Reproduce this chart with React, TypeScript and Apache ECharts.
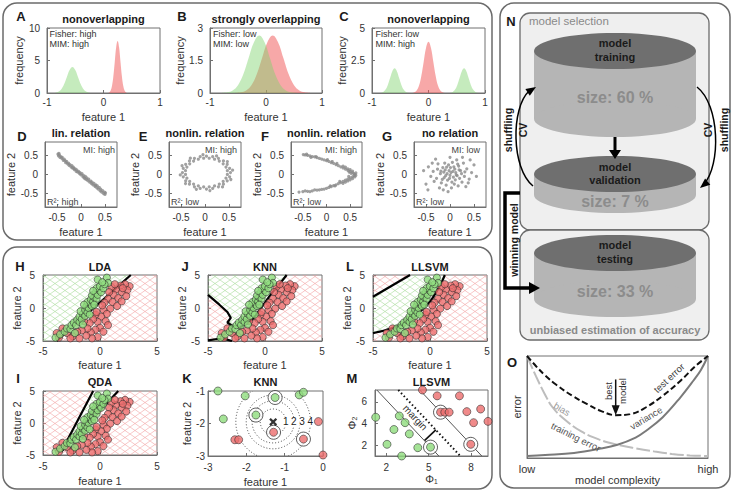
import { useEffect, useRef } from 'react';
import * as echarts from 'echarts';

const FONT = "'Liberation Sans', Arial, Helvetica, sans-serif";

// ===== A–C : class densities  [feature 1, frequency]
const aGreen = [[-0.9,0],[-0.85,0.04],[-0.8,0.18],[-0.75,0.54],[-0.7,1.3],[-0.65,2.43],[-0.6,3.53],[-0.55,4.0],[-0.5,3.53],[-0.45,2.43],[-0.4,1.3],[-0.35,0.54],[-0.3,0.18],[-0.25,0.04],[-0.2,0]];
const aRed = [[0.08,0],[0.1,0.09],[0.125,0.35],[0.15,1.08],[0.175,2.6],[0.2,4.85],[0.225,7.06],[0.25,8],[0.275,7.06],[0.3,4.85],[0.325,2.6],[0.35,1.08],[0.375,0.35],[0.4,0.09],[0.42,0]];
const bGreen = [[-0.785,0.01],[-0.69,0.03],[-0.595,0.12],[-0.5,0.36],[-0.405,0.86],[-0.31,1.61],[-0.215,2.34],[-0.12,2.65],[-0.025,2.34],[0.07,1.61],[0.165,0.86],[0.26,0.36],[0.355,0.12],[0.45,0.03],[0.545,0.01]];
const bRed = [[-0.545,0.01],[-0.45,0.03],[-0.355,0.12],[-0.26,0.36],[-0.165,0.86],[-0.07,1.61],[0.025,2.34],[0.12,2.65],[0.215,2.34],[0.31,1.61],[0.405,0.86],[0.5,0.36],[0.595,0.12],[0.69,0.03],[0.785,0.01]];
const cGreenL = [[-0.88,0],[-0.84,0.02],[-0.8,0.08],[-0.76,0.26],[-0.72,0.62],[-0.68,1.15],[-0.64,1.68],[-0.6,1.9],[-0.56,1.68],[-0.52,1.15],[-0.48,0.62],[-0.44,0.26],[-0.4,0.08],[-0.36,0.02],[-0.32,0]];
const cGreenR = [[0.35,0],[0.39,0.02],[0.43,0.08],[0.47,0.26],[0.51,0.62],[0.55,1.15],[0.59,1.68],[0.63,1.9],[0.67,1.68],[0.71,1.15],[0.75,0.62],[0.79,0.26],[0.83,0.08],[0.87,0.02],[0.91,0]];
const cRed = [[-0.3,0],[-0.255,0.04],[-0.213,0.17],[-0.17,0.53],[-0.128,1.28],[-0.085,2.4],[-0.043,3.49],[0,3.95],[0.043,3.49],[0.085,2.4],[0.128,1.28],[0.17,0.53],[0.213,0.17],[0.255,0.04],[0.3,0]];

// ===== D–G : feature 1 vs feature 2
const dPts = [[-0.48,0.53],[-0.47,0.49],[-0.45,0.51],[-0.44,0.45],[-0.42,0.47],[-0.40,0.42],[-0.39,0.45],[-0.37,0.37],[-0.35,0.40],[-0.33,0.36],[-0.32,0.31],[-0.30,0.34],[-0.28,0.28],[-0.26,0.30],[-0.25,0.24],[-0.23,0.26],[-0.21,0.20],[-0.19,0.23],[-0.18,0.17],[-0.16,0.19],[-0.14,0.13],[-0.12,0.15],[-0.10,0.08],[-0.09,0.12],[-0.07,0.06],[-0.05,0.08],[-0.03,0.02],[-0.02,0.05],[0.00,-0.01],[0.02,0.02],[0.04,-0.06],[0.05,-0.02],[0.07,-0.08],[0.09,-0.05],[0.11,-0.13],[0.12,-0.09],[0.14,-0.16],[0.16,-0.12],[0.18,-0.20],[0.20,-0.17],[0.22,-0.24],[0.23,-0.20],[0.25,-0.27],[0.27,-0.23],[0.29,-0.31],[0.31,-0.27],[0.33,-0.35],[0.34,-0.30],[0.36,-0.38],[0.38,-0.34],[0.40,-0.43],[0.41,-0.38],[0.43,-0.46],[0.45,-0.42],[0.47,-0.50],[0.49,-0.46],[0.50,-0.52],[0.51,-0.48],[-0.46,0.55],[0.08,-0.11],[-0.15,0.16],[0.30,-0.29]];
const ePts = [[0.53,0.05],[0.513,0.161],[0.463,0.265],[0.384,0.354],[0.28,0.422],[0.16,0.465],[0.03,0.48],[-0.10,0.465],[-0.22,0.422],[-0.324,0.354],[-0.403,0.265],[-0.453,0.161],[-0.47,0.05],[-0.453,-0.061],[-0.403,-0.165],[-0.324,-0.254],[-0.22,-0.322],[-0.10,-0.365],[0.03,-0.38],[0.16,-0.365],[0.28,-0.322],[0.384,-0.254],[0.463,-0.165],[0.513,-0.061],
  [0.466,0.1],[0.437,0.195],[0.379,0.28],[0.298,0.35],[0.199,0.399],[0.088,0.425],[-0.028,0.425],[-0.139,0.399],[-0.238,0.35],[-0.319,0.28],[-0.377,0.195],[-0.406,0.1],[-0.406,0.0],[-0.377,-0.095],[-0.319,-0.18],[-0.238,-0.25],[-0.139,-0.299],[-0.028,-0.325],[0.088,-0.325],[0.199,-0.299],[0.298,-0.25],[0.379,-0.18],[0.437,-0.095],[0.466,0.0],
  [0.575,0.112],[0.466,0.338],[0.241,0.487],[-0.042,0.519],[-0.305,0.426],[-0.478,0.231],[-0.515,-0.012],[-0.406,-0.238],[-0.18,-0.387],[0.102,-0.419],[0.365,-0.326],[0.538,-0.131]];
const fPts = [[-0.49,0.52],[-0.45,0.51],[-0.40,0.50],[-0.35,0.49],[-0.30,0.47],[-0.25,0.46],[-0.20,0.44],[-0.15,0.42],[-0.10,0.40],[-0.05,0.38],[0.00,0.36],[0.05,0.34],[0.10,0.31],[0.15,0.29],[0.20,0.26],[0.25,0.23],[0.30,0.20],[0.35,0.17],[0.40,0.14],[0.45,0.11],[0.50,0.08],[0.55,0.05],[0.58,0.02],[0.60,0.00],
  [0.45,0.15],[0.40,0.19],[0.50,0.13],[0.55,0.09],[0.35,0.22],[0.52,0.03],[0.62,0.04],[0.48,0.06],[-0.42,0.53],[-0.22,0.47],[0.02,0.39],[0.22,0.29],[-0.33,0.45],[0.12,0.34],
  [0.58,-0.03],[0.55,-0.06],[0.50,-0.09],[0.45,-0.12],[0.40,-0.15],[0.35,-0.18],[0.30,-0.21],[0.25,-0.24],[0.20,-0.27],[0.15,-0.29],[0.10,-0.32],[0.05,-0.34],[0.00,-0.36],[-0.05,-0.38],[-0.10,-0.39],[-0.15,-0.40],[-0.20,-0.41],[-0.30,-0.43],[-0.40,-0.44],[-0.50,-0.45],[-0.58,-0.46],
  [0.50,-0.14],[0.45,-0.17],[0.40,-0.20],[0.55,-0.11],[0.60,-0.06],[0.35,-0.23],[0.62,-0.02],[0.47,-0.05],[-0.25,-0.40],[-0.35,-0.45],[0.08,-0.30],[0.28,-0.18],[-0.45,-0.43],[0.18,-0.30]];
const gPts = [[0.02,0.05],[-0.10,0.12],[0.15,-0.03],[-0.05,-0.15],[0.08,0.20],[-0.20,0.02],[0.22,0.10],[0.00,-0.02],[-0.12,-0.08],[0.11,-0.14],[-0.03,0.25],[0.30,-0.05],[-0.28,-0.10],[0.05,0.32],[-0.15,0.18],[0.18,0.22],[-0.08,-0.28],[0.25,-0.20],[-0.35,0.08],[0.12,0.05],[-0.02,0.10],[0.07,-0.07],[-0.18,-0.22],[0.35,0.15],[-0.25,0.28],[0.03,-0.35],[0.40,-0.12],[-0.40,-0.05],[0.14,0.38],[-0.06,0.02],[0.10,0.14],[-0.13,0.06],[0.20,-0.10],[-0.09,-0.03],[0.04,-0.20],[-0.22,-0.35],[0.28,0.30],[0.45,0.05],[-0.45,0.20],[0.00,0.45],[0.17,-0.30],[-0.30,0.40],[0.33,-0.32],[-0.04,-0.45],[0.50,0.25],[-0.50,-0.25],[0.06,0.08],[-0.16,-0.13],[0.24,0.02],[-0.26,0.14],[0.09,-0.25],[-0.11,0.30],[0.19,0.12],[-0.01,-0.10],[0.13,-0.01],[-0.07,0.19],[0.31,0.07],[-0.33,-0.18],[0.01,0.18],[-0.19,0.09],[0.16,0.27],[-0.14,-0.40],[0.38,-0.22],[-0.37,0.30],[0.55,-0.05],[-0.55,0.10],[0.26,0.45],[0.42,0.38],[-0.46,-0.40]];

// ===== H, I, J, L : shared two-class dataset
const clsGreen = [[-3.9,-4.5],[-3.5,-4.0],[-3.1,-3.6],[-2.9,-3.1],[-2.6,-3.2],[-2.5,-2.6],[-2.3,-2.2],[-2.1,-2.6],[-2.0,-1.8],[-1.8,-2.1],[-1.8,-1.3],[-1.6,-1.7],[-1.5,-0.9],[-1.7,-0.5],[-1.3,-1.2],[-1.3,-0.3],[-1.1,-0.7],[-1.2,0.2],[-1.0,0.0],[-0.9,0.6],[-1.1,0.9],[-0.7,0.3],[-0.8,1.3],[-0.6,1.0],[-0.5,1.6],[-0.7,1.9],[-0.3,1.4],[-0.4,2.3],[-0.2,2.0],[-0.1,2.7],[-0.3,3.0],[0.1,2.4],[0.0,3.3],[0.3,3.0],[-0.2,4.3],[0.6,4.6],[0.7,3.8],[0.4,3.6],[-1.5,-2.5],[-2.2,-3.8],[-0.9,-1.0],[-0.5,0.5],[-1.4,0.5],[-0.6,2.6],[0.2,3.9]];
const clsRed = [[2.6,3.3],[2.2,3.6],[1.8,3.4],[2.4,2.7],[1.9,2.4],[1.4,2.8],[1.0,3.2],[1.2,2.0],[0.8,2.4],[1.6,1.5],[0.7,1.4],[1.1,0.9],[0.4,0.8],[1.5,0.3],[0.9,-0.1],[0.3,-0.3],[0.6,-0.9],[0.1,-1.3],[-0.4,-1.0],[0.5,-2.0],[-0.2,-2.1],[-0.6,-1.7],[-0.9,-2.3],[0.0,-3.0],[-0.4,-3.3],[0.3,-3.6],[-0.8,-3.7],[-0.2,-4.4],[-0.7,-4.6],[-1.2,-4.2],[-1.1,-3.1],[-1.6,-3.4],[-2.0,-3.6],[-2.4,-4.3],[-2.9,-3.8],[-3.3,-3.1],[-3.8,-3.8],[-3.6,-4.5],[-1.8,-4.6],[1.9,1.0],[2.3,1.8],[0.2,0.4],[-0.3,-0.6],[0.7,-2.6],[2.0,3.0],[1.3,3.6],[-1.4,-2.0],[-2.6,-4.6]];

// decision regions / boundaries
const hGreenRegion = [[-5,-5],[-3.8,-5],[2.7,5],[-5,5]];
const hRedRegion = [[-3.8,-5],[5,-5],[5,5],[2.7,5]];
const hLine = [[-3.8,-5],[2.7,5]];
const iGreenRegion = [[-3.4,-4.5],[-0.6,5],[1.6,5]];
const iRedRegion = [[-5,-5],[5,-5],[5,5],[1.6,5],[-3.4,-4.5],[-0.6,5],[-5,5]];
const iLine = [[-0.6,5],[-3.4,-4.5],[1.6,5]];
const jLine = [[-5,2.0],[-4,0.5],[-3.3,-0.6],[-3.0,-1.5],[-3.3,-2.2],[-2.8,-2.8],[-2.2,-2.9],[-1.6,-2.4],[-1.1,-1.7],[-0.6,-0.6],[-0.1,0.6],[0.4,1.8],[0.9,2.9],[1.4,3.9],[1.9,5]];
const jGreenRegion = [[-5,5],...jLine];
const jRedRegion = [[-5,-5],...jLine,[5,5],[5,-5]];
const jLine2 = [[-5,-4.9],[-4.2,-4.7],[-3.4,-4.75],[-2.9,-5]];
const jGreenRegion2 = [[-5,-5],...jLine2];
const lLine = [[-5,-3.8],[-4,-3.4],[-3,-2.85],[-2,-2.0],[-1.2,-1.1],[-0.6,-0.1],[0,0.96],[0.4,2.0],[0.75,3.0],[1.05,4.0],[1.3,5]];
const lLine2 = [[-5,1.7],[-1.75,5]];
const lGreenRegion = [...lLine,[-1.75,5],[-5,1.7]];
const lRedRegion = [[-5,-5],[5,-5],[5,5],...lLine.slice().reverse()];
const lRedRegion2 = [[-5,1.7],[-1.75,5],[-5,5]];

// ===== K : nearest neighbours
const kGreen = [[-2.74,-1.0],[-2.6,-1.86],[-2.03,-1.15],[-1.25,-1.2],[-1.75,-1.74],[-0.62,-1.12],[-0.51,-1.04]];
const kRed = [[-2.3,-2.5],[-2.2,-2.5],[-1.29,-2.27],[-0.51,-2.48],[-0.12,-1.94],[0.0,-2.97]];
const kQuery = [[-1.3,-1.95]];
const kNeighbors = [[-1.29,-2.27],[-1.75,-1.74],[-1.25,-1.2],[-0.51,-2.48]];
const kRankLabels = ['1','2','3','4'];

// ===== M : linear SVM in feature space
const mGreen = [[1.25,4.58],[1.15,3.45],[2.92,4.7],[3.33,4.08],[2.54,3.45],[3.63,3.04],[2.05,2.08],[4.23,1.77],[3.09,1.0],[5.13,1.82]];
const mRed = [[4.56,7.1],[5.6,6.56],[5.84,5.05],[6.14,5.05],[6.45,5.05],[7.18,6.56],[7.7,5.1],[8.68,5.34],[8.18,4.08],[9.2,4.2],[7.98,2.08]];
const mSupport = [[5.13,1.82],[5.84,5.05],[7.98,2.08]];
const mLower = [[1.33,7.1],[5.72,1]];
const mMid = [[2.85,7.1],[7.24,1]];
const mUpper = [[4.37,7.1],[8.76,1]];
const mMarginAnchor = [5.51,3.41];
const mMarginLabelAt = [4.05,4.55];

// ===== O : bias / variance
const oTest = [[0,1.0],[0.05,0.9],[0.1,0.81],[0.16,0.72],[0.25,0.61],[0.33,0.53],[0.41,0.46],[0.49,0.42],[0.57,0.43],[0.66,0.5],[0.75,0.61],[0.85,0.76],[0.93,0.9],[1.0,1.0]];
const oBias = [[0,1.0],[0.05,0.8],[0.1,0.62],[0.14,0.5],[0.2,0.39],[0.3,0.26],[0.4,0.18],[0.5,0.13],[0.6,0.095],[0.7,0.065],[0.8,0.04],[0.9,0.025],[1.0,0.02]];
const oVar = [[0,0.02],[0.1,0.03],[0.26,0.05],[0.4,0.09],[0.5,0.13],[0.6,0.2],[0.66,0.27],[0.75,0.4],[0.85,0.6],[0.92,0.76],[0.96,0.86],[1.0,1.0]];
const oBestTop = [0.49,0.77];
const oBestTip = [0.49,0.42];

// grid boxes [left, top, width, height]
const GRIDS = [
  [47,28,113,65],[210,28,112,65],[372,28,113,65],
  [45,142,72,65],[169,142,72,65],[291,142,71,65],[414,142,72,65],
  [43,275,114,66],[208,275,114,66],[373,275,114,66],
  [43,391,114,64],[208,391,115,65],[375,390,113,66],
  [527,356,181,102],
];

const GREEN = '#8fdc7d';
const RED = '#ec6d6d';

function hatch(color: string) {
  const w = 10, h = 7;
  const c = document.createElement('canvas');
  c.width = w; c.height = h;
  const ctx = c.getContext('2d') as CanvasRenderingContext2D;
  ctx.strokeStyle = color; ctx.lineWidth = 0.55;
  for (const ox of [-w, 0, w]) {
    ctx.beginPath(); ctx.moveTo(ox, 0); ctx.lineTo(ox + w, h); ctx.stroke();
    ctx.beginPath(); ctx.moveTo(ox, h); ctx.lineTo(ox + w, 0); ctx.stroke();
  }
  return { image: c, repeat: 'repeat', imageWidth: w, imageHeight: h };
}

function axis(gi: number, o: any, isX: boolean) {
  const lab: any = { show: o.labels !== false, fontSize: o.fontSize || 10, color: '#333', fontFamily: FONT, margin: o.margin, hideOverlap: false };
  const tick: any = { show: o.ticks !== false, inside: true, length: 3, lineStyle: { color: '#707070' } };
  if (o.custom) { lab.customValues = o.custom; tick.customValues = o.custom; }
  if (o.formatter) lab.formatter = o.formatter;
  const a: any = {
    type: 'value', gridIndex: gi, min: o.min, max: o.max,
    splitLine: { show: false },
    axisLine: { show: true, onZero: false, lineStyle: { color: '#707070', width: 1 } },
    axisTick: tick, axisLabel: lab,
    showMinLabel: true, showMaxLabel: true,
    name: o.name || '', nameLocation: 'middle', nameGap: o.nameGap,
    nameTextStyle: { fontSize: 11, color: '#333', fontFamily: FONT },
  };
  if (o.interval) a.interval = o.interval;
  return a;
}

function T(x: number, y: number, text: string, o: any = {}) {
  const align = o.align || 'center';
  return {
    type: 'text', x, y, rotation: o.rot || 0, silent: true, z: 100,
    style: {
      text, fill: o.color || '#1a1a1a',
      font: `${o.bold ? 'bold ' : ''}${o.size || 11}px ${FONT}`,
      align, verticalAlign: 'middle', textAlign: align, textVerticalAlign: 'middle',
    },
  };
}

function buildOption(hG: any, hR: any) {
  const F1 = 'feature 1', F2 = 'feature 2';
  const xs = [
    { min: -1, max: 1, interval: 1, name: F1, nameGap: 18, margin: 4 },
    { min: -1, max: 1, interval: 1, name: F1, nameGap: 18, margin: 4 },
    { min: -1, max: 1, interval: 1, name: F1, nameGap: 18, margin: 4 },
    ...[0, 1, 2, 3].map(() => ({ min: -0.75, max: 0.75, custom: [-0.5, 0, 0.5], name: F1, nameGap: 19, margin: 5 })),
    ...[0, 1, 2].map(() => ({ min: -5, max: 5, interval: 5, name: F1, nameGap: 18.5, margin: 5 })),
    { min: -5, max: 5, interval: 5, name: F1, nameGap: 20, margin: 6 },
    { min: -3, max: 0, interval: 1, name: F1, nameGap: 20, margin: 6 },
    { min: 1.2, max: 9.2, custom: [2, 5, 8], name: 'Φ₁', nameGap: 17, margin: 6 },
    { min: 0, max: 1, custom: [0, 1], formatter: (v: number) => (v === 0 ? 'low' : 'high'), name: 'model complexity', nameGap: 16, margin: 5, ticks: false, fontSize: 11 },
  ];
  const ys = [
    { min: 0, max: 10, interval: 5, name: 'frequency', nameGap: 21, margin: 7 },
    { min: 0, max: 3, interval: 1.5, name: 'frequency', nameGap: 21, margin: 7 },
    { min: 0, max: 5, interval: 2.5, name: 'frequency', nameGap: 21, margin: 7 },
    ...[0, 1, 2, 3].map(() => ({ min: -0.85, max: 0.85, custom: [-0.5, 0, 0.5], name: F2, nameGap: 27.5, margin: 7 })),
    ...[0, 1, 2, 3].map(() => ({ min: -5, max: 5, interval: 5, name: F2, nameGap: 20, margin: 8 })),
    { min: -3, max: -1, interval: 1, name: F2, nameGap: 12, margin: 3 },
    { min: 1, max: 7.1, custom: [2, 4, 6], name: 'Φ₂', nameGap: 18, margin: 8 },
    { min: 0, max: 1, labels: false, ticks: false, name: 'error', nameGap: 5 },
  ];

  const S: any[] = [];
  const on = (gi: number) => ({ xAxisIndex: gi, yAxisIndex: gi });
  const area = (gi: number, data: any, color: string) => S.push({ type: 'line', ...on(gi), data, smooth: 0.4, symbol: 'none', silent: true, lineStyle: { width: 0 }, areaStyle: { color, opacity: 1 }, z: 2 });
  const dots = (gi: number, data: any) => S.push({ type: 'scatter', ...on(gi), data, symbolSize: 3.2, silent: true, itemStyle: { color: '#8a8a8a' }, z: 3 });
  const pts = (gi: number, data: any, color: string, size = 7.2) => S.push({ type: 'scatter', ...on(gi), data, symbolSize: size, silent: true, itemStyle: { color, borderColor: '#2a2a2a', borderWidth: 0.7 }, z: 5 });
  const rings = (gi: number, data: any) => S.push({ type: 'scatter', ...on(gi), data, symbolSize: 14, silent: true, itemStyle: { color: '#fff', borderColor: '#333', borderWidth: 1 }, z: 4 });
  const line = (gi: number, data: any, ls: any, smooth: any = false) => S.push({ type: 'line', ...on(gi), data, smooth, symbol: 'none', silent: true, lineStyle: ls, z: 4 });
  const region = (gi: number, poly: number[][], fill: any) => S.push({
    type: 'custom', ...on(gi), clip: true, silent: true, z: 1, data: [poly[0]],
    renderItem: (_p: any, api: any) => ({ type: 'polygon', shape: { points: poly.map((v) => api.coord(v)) }, style: { fill, stroke: 'none' } }),
  });

  const aG = 'rgba(126,210,108,0.45)', aR = 'rgba(239,81,81,0.5)';
  area(0, aGreen, aG); area(0, aRed, aR);
  area(1, bRed, aR); area(1, bGreen, aG);
  area(2, cGreenL, aG); area(2, cGreenR, aG); area(2, cRed, aR);
  dots(3, dPts); dots(4, ePts); dots(5, fPts); dots(6, gPts);

  const BL = { color: '#000', width: 2.2 };
  region(7, hGreenRegion, hG); region(7, hRedRegion, hR); line(7, hLine, BL);
  region(8, jGreenRegion, hG); region(8, jRedRegion, hR); region(8, jGreenRegion2, hG);
  line(8, jLine, BL); line(8, jLine2, BL);
  region(9, lGreenRegion, hG); region(9, lRedRegion, hR); region(9, lRedRegion2, hR);
  line(9, lLine, BL, 0.3); line(9, lLine2, BL);
  region(10, iGreenRegion, hG); region(10, iRedRegion, hR); line(10, iLine, BL);
  for (const gi of [7, 8, 9, 10]) { pts(gi, clsRed, RED); pts(gi, clsGreen, GREEN); }

  // K
  S.push({
    type: 'custom', ...on(11), clip: true, silent: true, z: 3, data: kQuery,
    renderItem: (_p: any, api: any) => {
      const c = api.coord(kQuery[0]);
      const children: any[] = [];
      kNeighbors.forEach((p, i) => {
        const q = api.coord(p);
        const r = Math.hypot(q[0] - c[0], q[1] - c[1]) + 2.5;
        children.push({ type: 'circle', shape: { cx: c[0], cy: c[1], r }, style: { fill: 'none', stroke: '#444', lineWidth: 1, lineDash: [1, 2] } });
        children.push({ type: 'text', x: c[0] + 12.5 + 8.2 * i, y: c[1], style: { text: kRankLabels[i], fill: '#222', font: `10px ${FONT}`, align: 'center', verticalAlign: 'middle', backgroundColor: '#fff' } });
      });
      return { type: 'group', children };
    },
  });
  rings(11, kNeighbors);
  pts(11, kGreen, GREEN, 8); pts(11, kRed, RED, 8);
  S.push({ type: 'scatter', ...on(11), data: kQuery, symbol: 'path://M2,0L5,3L8,0L10,2L7,5L10,8L8,10L5,7L2,10L0,8L3,5L0,2Z', symbolSize: 8, silent: true, itemStyle: { color: '#000' }, z: 6 });

  // M
  line(12, mLower, { color: '#555', width: 1 });
  line(12, mUpper, { color: '#555', width: 1 });
  line(12, mMid, { color: '#111', width: 2, type: [1.5, 2.5] });
  S.push({
    type: 'custom', ...on(12), clip: true, silent: true, z: 4, data: [mMarginAnchor],
    renderItem: (_p: any, api: any) => {
      const a = api.coord(mMarginAnchor);
      const p1 = api.coord(mLower[0]), p2 = api.coord(mLower[1]);
      const dx = p2[0] - p1[0], dy = p2[1] - p1[1];
      const t = ((a[0] - p1[0]) * dx + (a[1] - p1[1]) * dy) / (dx * dx + dy * dy);
      const f = [p1[0] + t * dx, p1[1] + t * dy];
      const m = api.coord(mMarginLabelAt);
      return { type: 'group', children: [
        { type: 'line', shape: { x1: a[0], y1: a[1], x2: f[0], y2: f[1] }, style: { stroke: '#111', lineWidth: 1.6 } },
        { type: 'text', x: m[0], y: m[1], rotation: Math.atan2(-dy, dx), style: { text: 'margin', fill: '#333', font: `10px ${FONT}`, align: 'center', verticalAlign: 'middle' } },
      ] };
    },
  });
  rings(12, mSupport);
  pts(12, mGreen, GREEN, 8); pts(12, mRed, RED, 8);

  // O
  line(13, oBias, { color: '#bdbdbd', width: 2, type: [14, 3] }, 0.4);
  line(13, oVar, { color: '#7a7a7a', width: 2 }, 0.4);
  line(13, oTest, { color: '#111', width: 2, type: [6, 3] }, 0.4);
  S.push({
    type: 'custom', ...on(13), clip: false, silent: true, z: 6, data: [oBestTop],
    renderItem: (_p: any, api: any) => {
      const a = api.coord(oBestTop), b = api.coord(oBestTip);
      return { type: 'group', children: [
        { type: 'line', shape: { x1: a[0], y1: a[1], x2: b[0], y2: b[1] - 8 }, style: { stroke: '#111', lineWidth: 1.5 } },
        { type: 'polygon', shape: { points: [[b[0] - 4, b[1] - 10], [b[0] + 4, b[1] - 10], [b[0], b[1]]] }, style: { fill: '#111' } },
      ] };
    },
  });

  // ---------- graphics
  const box = (x: number, y: number, w: number, h: number, r: number, fill = 'none', stroke = '#6b6b6b', lw = 1.5) =>
    ({ type: 'rect', silent: true, z: 0, shape: { x, y, width: w, height: h, r }, style: { fill, stroke, lineWidth: lw } });
  const cyl = (cy1: number, cy2: number) => [
    { type: 'rect', silent: true, z: 1, shape: { x: 534, y: cy1, width: 162, height: cy2 - cy1 }, style: { fill: '#b5b5b5' } },
    { type: 'ellipse', silent: true, z: 1, shape: { cx: 615, cy: cy2, rx: 81, ry: 18 }, style: { fill: '#b5b5b5' } },
    { type: 'ellipse', silent: true, z: 2, shape: { cx: 615, cy: cy1, rx: 81, ry: 18 }, style: { fill: '#6f6f6f' } },
  ];
  const B = { bold: true, size: 13 };
  const TT = { bold: true, size: 11 };
  const IN = { size: 9, color: '#333', align: 'left' };
  const MI = { size: 9, color: '#444', align: 'right' };
  const R2 = { size: 9, color: '#444', align: 'left' };
  const ROT = Math.PI / 2;
  const g: any[] = [
    box(3, 3, 489, 237, 14), box(3, 247, 489, 242, 14), box(500, 3, 230, 485, 14),
    box(520, 13, 189, 217, 10, '#efefef', '#6b6b6b', 1.3), box(520, 230, 189, 110, 10, '#efefef', '#6b6b6b', 1.3),
    ...cyl(51, 119), ...cyl(174, 195), ...cyl(253, 299),
    T(21, 16, 'A', B), T(182, 16, 'B', B), T(344, 16, 'C', B),
    T(22, 136, 'D', B), T(143, 136, 'E', B), T(265, 136, 'F', B), T(387, 136, 'G', B),
    T(20, 266, 'H', B), T(185, 266, 'J', B), T(350, 266, 'L', B),
    T(18, 378, 'I', B), T(187, 378, 'K', B), T(352, 378, 'M', B),
    T(511, 21, 'N', B), T(512, 362, 'O', B),
    T(103.5, 19, 'nonoverlapping', TT), T(266, 19, 'strongly overlapping', TT), T(428.5, 19, 'nonoverlapping', TT),
    T(81, 133, 'lin. relation', TT), T(205, 133, 'nonlin. relation', TT), T(326.5, 133, 'nonlin. relation', TT), T(450, 133, 'no relation', TT),
    T(100, 267, 'LDA', TT), T(265, 267, 'KNN', TT), T(430, 267, 'LLSVM', TT),
    T(100, 382, 'QDA', TT), T(265.5, 382, 'KNN', TT), T(431.5, 382, 'LLSVM', TT),
    T(49.5, 33.7, 'Fisher: high', IN), T(49.5, 44.3, 'MIM: high', IN),
    T(213, 33.7, 'Fisher: low', IN), T(213, 44.3, 'MIM: low', IN),
    T(375.5, 33.7, 'Fisher: low', IN), T(375.5, 44.3, 'MIM: high', IN),
    T(115, 149.5, 'MI: high', MI), T(47, 201.5, 'R²: high', R2),
    T(237, 149.5, 'MI: high', MI), T(171, 201.5, 'R²: low', R2),
    T(357, 149.5, 'MI: high', MI), T(293, 201.5, 'R²: low', R2),
    T(480, 149.5, 'MI: low', MI), T(416, 201.5, 'R²: low', R2),
    T(529, 21, 'model selection', { size: 11.5, color: '#8a8a8a', align: 'left' }),
    T(615, 330, 'unbiased estimation of accuracy', { bold: true, size: 11, color: '#8a8a8a' }),
    T(615, 43, 'model', TT), T(615, 57, 'training', TT), T(615, 97, 'size: 60 %', { bold: true, size: 16, color: '#8c8c8c' }),
    T(615, 167, 'model', TT), T(615, 180, 'validation', TT), T(615, 201.5, 'size: 7 %', { bold: true, size: 16, color: '#8c8c8c' }),
    T(615, 245, 'model', TT), T(615, 259, 'testing', TT), T(615, 291, 'size: 33 %', { bold: true, size: 16, color: '#8c8c8c' }),
    T(508, 130, 'shuffling', { bold: true, size: 10.5, rot: ROT }), T(523, 130, 'CV', { bold: true, size: 10.5, rot: ROT }),
    T(708, 130, 'CV', { bold: true, size: 10.5, rot: ROT }), T(724, 130, 'shuffling', { bold: true, size: 10.5, rot: ROT }),
    T(514, 240, 'winning model', { bold: true, size: 10.5, rot: ROT }),
    { type: 'line', silent: true, z: 5, shape: { x1: 615, y1: 137, x2: 615, y2: 151 }, style: { stroke: '#000', lineWidth: 3 } },
    { type: 'polygon', silent: true, z: 5, shape: { points: [[609, 150], [621, 150], [615, 159]] }, style: { fill: '#000' } },
    { type: 'bezierCurve', silent: true, z: 5, shape: { x1: 533, y1: 186, cpx1: 511, cpy1: 168, cpx2: 511, cpy2: 108, x2: 529, y2: 91 }, style: { stroke: '#000', lineWidth: 1.5, fill: 'none' } },
    { type: 'polygon', silent: true, z: 5, shape: { points: [[536, 87], [529.8, 95.8], [525.4, 89]] }, style: { fill: '#000' } },
    { type: 'bezierCurve', silent: true, z: 5, shape: { x1: 697, y1: 87, cpx1: 720, cpy1: 105, cpx2: 721, cpy2: 165, x2: 704, y2: 184 }, style: { stroke: '#000', lineWidth: 1.5, fill: 'none' } },
    { type: 'polygon', silent: true, z: 5, shape: { points: [[700, 188], [710.3, 184.7], [705.1, 178.5]] }, style: { fill: '#000' } },
    { type: 'polyline', silent: true, z: 5, shape: { points: [[520, 193], [505, 193], [505, 288], [530, 288]] }, style: { stroke: '#000', lineWidth: 3.5, fill: 'none' } },
    { type: 'polygon', silent: true, z: 5, shape: { points: [[529, 282], [529, 294], [540, 288]] }, style: { fill: '#000' } },
    T(608, 391, 'best', { size: 9.5, rot: ROT, color: '#333' }), T(622, 391, 'model', { size: 9.5, rot: ROT, color: '#333' }),
    T(669, 378, 'test error', { size: 9.5, rot: 0.75, color: '#444' }),
    T(646, 418, 'variance', { size: 9.5, rot: 0.54, color: '#555' }),
    T(562, 409, 'bias', { size: 9.5, rot: -0.54, color: '#999' }),
    T(576, 437, 'training error', { size: 9.5, rot: -0.46, color: '#555' }),
  ];

  return {
    animation: false,
    textStyle: { fontFamily: FONT },
    grid: GRIDS.map((b) => ({ left: b[0], top: b[1], width: b[2], height: b[3], show: true, borderColor: '#707070', borderWidth: 1, backgroundColor: '#fff' })),
    xAxis: xs.map((o, i) => axis(i, o, true)),
    yAxis: ys.map((o, i) => axis(i, o, false)),
    series: S,
    graphic: { elements: g },
  };
}

export default function App() {
  const ref = useRef<HTMLDivElement>(null);
  useEffect(() => {
    if (!ref.current) return;
    const chart = echarts.init(ref.current, undefined, { renderer: 'svg' });
    chart.setOption(buildOption(hatch('#9ed690'), hatch('#f19a9a')) as any);
    return () => chart.dispose();
  }, []);
  return <div ref={ref} style={{ position: 'absolute', left: 0, top: 0, width: 733, height: 492, background: '#fff' }} />;
}
